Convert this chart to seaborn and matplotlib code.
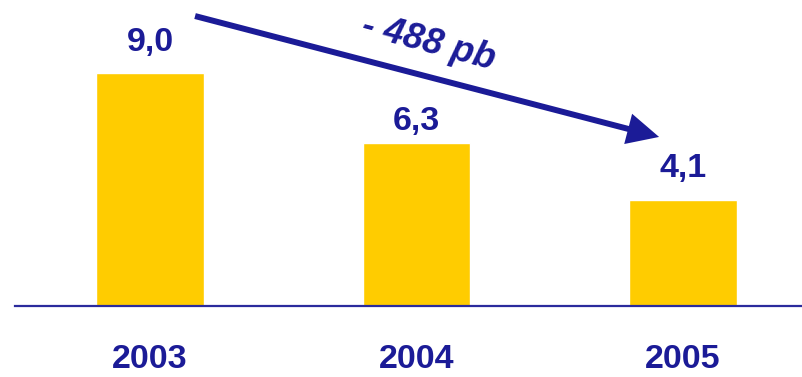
import matplotlib
matplotlib.use("Agg")
import matplotlib.pyplot as plt
import seaborn as sns
import pandas as pd

# Values
years = ["2003", "2004", "2005"]
values = [9.0, 6.3, 4.1]
value_labels = ["9,0", "6,3", "4,1"]
change_label = "- 488 pb"

# Layout / style
label_offsets_pt = [15.8, 9.4, 16.6]
bar_color = "#FFCC00"
ink = "#1B1B97"

sns.set_theme(style="white")
plt.rcParams["font.family"] = ["Liberation Sans", "DejaVu Sans"]

df = pd.DataFrame({"year": years, "value": values})

fig = plt.figure(figsize=(8.03, 3.77), dpi=100)
ax = fig.add_axes([15 / 803, (377 - 306) / 377, 1 - 15 / 803, 306 / 377])

sns.barplot(data=df, x="year", y="value", color=bar_color, saturation=1,
            width=0.404, ax=ax)

ax.set_xlim(-0.5066, 2.45)
ax.set_ylim(0, 11.82)

for s in ["top", "right", "left"]:
    ax.spines[s].set_visible(False)
ax.spines["bottom"].set_color("#2B2B9C")
ax.spines["bottom"].set_linewidth(1.6)
ax.set_yticks([])
ax.set_xlabel("")
ax.set_ylabel("")
ax.tick_params(axis="x", length=0, pad=27.5, labelsize=24.5, labelcolor=ink)
for t in ax.get_xticklabels():
    t.set_fontweight("bold")

# Value labels above bars
for i, (v, lab) in enumerate(zip(values, value_labels)):
    ax.annotate(lab, xy=(i, v), xytext=(0, label_offsets_pt[i]),
                textcoords="offset points", ha="center", va="baseline",
                fontsize=24.5, fontweight="bold", color=ink)

# Trend arrow from first to last year
ax.annotate("", xy=(1.91, 6.53), xytext=(0.169, 11.2),
            arrowprops=dict(arrowstyle="simple,head_length=2.3,head_width=2.25,tail_width=0.43",
                            mutation_scale=10, color=ink, lw=0,
                            shrinkA=0, shrinkB=0))
ax.text(1.045, 10.15, change_label, rotation=-15, rotation_mode="anchor",
        ha="center", va="center", fontsize=26, fontweight="bold",
        fontstyle="italic", color=ink)

fig.savefig("out.png", dpi=100)
